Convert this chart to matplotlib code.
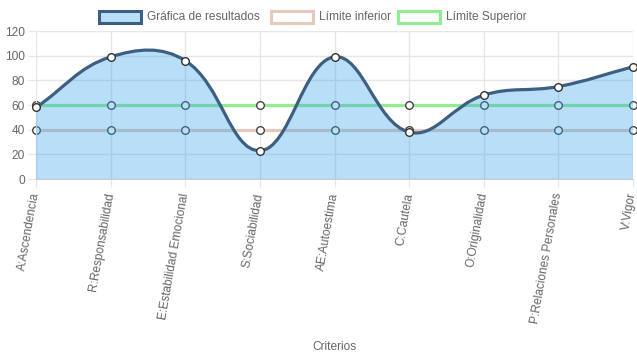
import numpy as np
import matplotlib
matplotlib.use("Agg")
import matplotlib.pyplot as plt
from matplotlib.path import Path
from matplotlib.patches import PathPatch, Rectangle

plt.rcParams['font.family'] = ['Liberation Sans', 'DejaVu Sans']

categorias = ["A:Ascendencia", "R:Responsabilidad", "E:Estabilidad Emocional",
              "S:Sociabilidad", "AE:Autoestima", "C:Cautela", "O:Originalidad",
              "P:Relaciones Personales", "V:Vigor"]
resultados = [58, 99, 96, 23, 99, 38, 68, 75, 91]
limite_inferior = [40, 40, 40, 40, 40, 40, 40, 40, 40]
limite_superior = [60, 60, 60, 60, 60, 60, 60, 60, 60]

W, H = 637, 359
fig = plt.figure(figsize=(W / 100, H / 100), dpi=100)
L, R, T, B = 36, 633, 31, 179
ax = fig.add_axes([L / W, (H - B) / H, (R - L) / W, (B - T) / H])
ax.set_xlim(0, len(categorias) - 1)
ax.set_ylim(0, 120)

# escala pixel por unidad, para la curva tipo chart.js
sx = (R - L) / (len(categorias) - 1)
sy = (B - T) / 120.0


def spline_path(ys, tension=0.4, close_to_zero=False):
    n = len(ys)
    px = np.arange(n) * sx
    py = np.array(ys, dtype=float) * sy
    cps = []
    for i in range(n):
        prv = i - 1 if i > 0 else i
        nxt = i + 1 if i < n - 1 else i
        d01 = np.hypot(px[i] - px[prv], py[i] - py[prv])
        d12 = np.hypot(px[nxt] - px[i], py[nxt] - py[i])
        tot = d01 + d12 if d01 + d12 > 0 else 1
        fa = tension * d01 / tot
        fb = tension * d12 / tot
        dx = px[nxt] - px[prv]
        dy = py[nxt] - py[prv]
        cps.append(((px[i] - fa * dx, py[i] - fa * dy), (px[i] + fb * dx, py[i] + fb * dy)))
    verts = [(px[0], py[0])]
    codes = [Path.MOVETO]
    for i in range(1, n):
        verts += [cps[i - 1][1], cps[i][0], (px[i], py[i])]
        codes += [Path.CURVE4] * 3
    if close_to_zero:
        verts += [(px[-1], 0), (px[0], 0), (px[0], py[0])]
        codes += [Path.LINETO, Path.LINETO, Path.CLOSEPOLY]
    verts = [(vx / sx, vy / sy) for vx, vy in verts]
    return Path(verts, codes)


# rejilla
ax.grid(True, color='#e6e6e6', linewidth=1)
ax.set_axisbelow(True)
for s in ['top', 'right']:
    ax.spines[s].set_visible(False)
ax.spines['left'].set_color('#e6e6e6')
ax.spines['bottom'].set_color('#cccccc')
ax.set_yticks(range(0, 121, 20))
ax.set_xticks(range(len(categorias)))
ax.set_xticklabels(categorias, rotation=80, ha='right', va='center', rotation_mode='anchor')
ax.tick_params(axis='both', colors='#e6e6e6', length=6, labelcolor='#666666', labelsize=8.6)
ax.tick_params(axis='x', pad=4)
ax.tick_params(axis='y', pad=2)

x = np.arange(len(categorias))
ax.plot(x, limite_superior, color='#90ee90', lw=2.3, zorder=2, clip_on=False)
ax.plot(x, limite_superior, 'o', ms=5.5, mfc='white', mec='#444444', mew=1, zorder=2.1, clip_on=False)
ax.plot(x, limite_inferior, color='#e6c9bd', lw=2.3, zorder=2.2, clip_on=False)
ax.plot(x, limite_inferior, 'o', ms=5.5, mfc='white', mec='#444444', mew=1, zorder=2.3, clip_on=False)

ax.add_patch(PathPatch(spline_path(resultados, close_to_zero=True),
                       facecolor=(54 / 255, 162 / 255, 235 / 255, 0.35), edgecolor='none', zorder=3))
ax.add_patch(PathPatch(spline_path(resultados), facecolor='none', edgecolor='#3c5f82',
                       lw=2.3, zorder=4, clip_on=False))
ax.plot(x, resultados, 'o', ms=5.5, mfc='white', mec='#333333', mew=1, zorder=5, clip_on=False)

fig.text((L + R) / 2 / W, 1 - 347 / H, "Criterios", ha='center', va='center',
         color='#666666', fontsize=8.6)

# leyenda
items = [("Gráfica de resultados", '#b9def8', '#3c5f82', 99),
         ("Límite inferior", 'white', '#e6c9bd', 271),
         ("Límite Superior", 'white', '#90ee90', 398)]
for txt, fc, ec, x0 in items:
    fig.add_artist(Rectangle((x0 / W, 1 - 23 / H), 42 / W, 12 / H, transform=fig.transFigure,
                             facecolor=fc, edgecolor=ec, lw=2.2))
    fig.text((x0 + 48) / W, 1 - 17 / H, txt, ha='left', va='center', color='#666666', fontsize=8.6)

fig.savefig("out.png", dpi=100)
